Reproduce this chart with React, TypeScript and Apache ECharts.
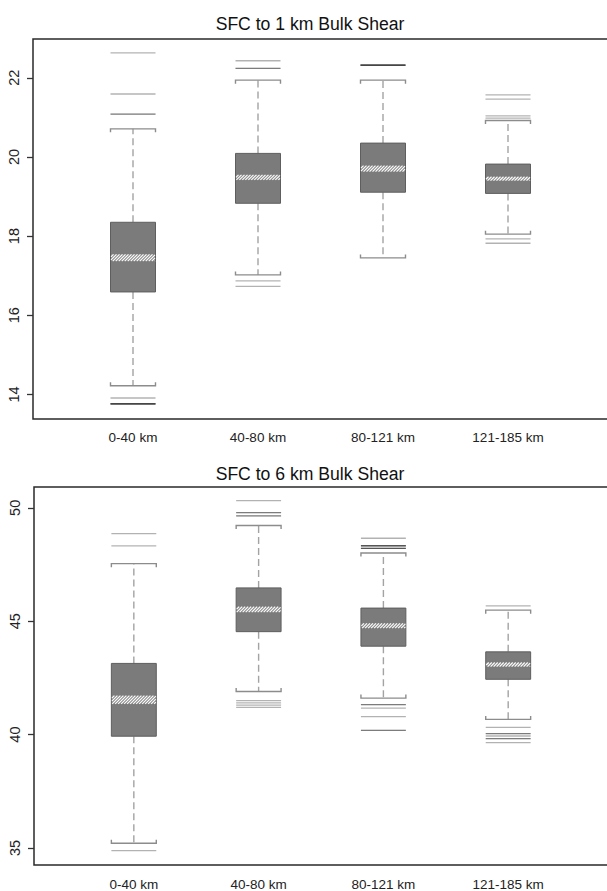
import React, { useEffect, useRef } from 'react';
import * as echarts from 'echarts';

const categories = ['0-40 km', '40-80 km', '80-121 km', '121-185 km'];

// ---- Panel 1: SFC to 1 km Bulk Shear ----
const title1 = 'SFC to 1 km Bulk Shear';
const p1WhiskerLow = [14.22, 17.02, 17.45, 18.05];
const p1Q1 = [16.59, 18.83, 19.11, 19.08];
const p1MedLow = [17.37, 19.42, 19.63, 19.4];
const p1MedHigh = [17.54, 19.55, 19.78, 19.5];
const p1Q3 = [18.35, 20.09, 20.35, 19.82];
const p1WhiskerHigh = [20.71, 21.94, 21.94, 20.92];
const p1Outliers = [
  [22.63, 21.59, 21.08, 21.08, 13.91, 13.76, 13.76, 13.76, 13.76, 13.76],
  [22.43, 22.24, 22.24, 16.87, 16.73],
  [22.32, 22.32, 22.32, 22.32, 22.32],
  [21.57, 21.46, 21.04, 20.98, 17.93, 17.82],
];
const p1Ticks = [14, 16, 18, 20, 22];
const p1Min = 13.38;
const p1Max = 22.98;

// ---- Panel 2: SFC to 6 km Bulk Shear ----
const title2 = 'SFC to 6 km Bulk Shear';
const p2WhiskerLow = [35.21, 41.9, 41.61, 40.67];
const p2Q1 = [39.93, 44.54, 43.9, 42.44];
const p2MedLow = [41.36, 45.4, 44.7, 43.0];
const p2MedHigh = [41.72, 45.64, 44.91, 43.18];
const p2Q3 = [43.14, 46.47, 45.58, 43.65];
const p2WhiskerHigh = [47.54, 49.22, 48.01, 45.49];
const p2Outliers = [
  [48.86, 48.32, 34.88],
  [50.32, 49.79, 49.79, 49.65, 49.65, 41.5, 41.4, 41.3, 41.2],
  [48.66, 48.33, 48.33, 48.33, 48.21, 48.21, 48.21, 41.32, 41.32, 41.17, 40.79, 40.19, 40.19],
  [45.68, 40.32, 40.04, 40.04, 39.94, 39.82, 39.82, 39.65],
];
const p2Ticks = [35, 40, 45, 50];
const p2Min = 34.25;
const p2Max = 50.92;

const X_MIN = 0.2;
const X_MAX = 4.88;
const BOX_W = 0.36;
const FONT = '"Liberation Sans", Arial, Helvetica, sans-serif';

type Panel = {
  wl: number[]; q1: number[]; ml: number[]; mh: number[]; q3: number[]; wh: number[]; out: number[][];
};

const panel1: Panel = { wl: p1WhiskerLow, q1: p1Q1, ml: p1MedLow, mh: p1MedHigh, q3: p1Q3, wh: p1WhiskerHigh, out: p1Outliers };
const panel2: Panel = { wl: p2WhiskerLow, q1: p2Q1, ml: p2MedLow, mh: p2MedHigh, q3: p2Q3, wh: p2WhiskerHigh, out: p2Outliers };

function makeRender(p: Panel) {
  return (params: any, api: any) => {
    const i = params.dataIndex;
    const x = i + 1;
    const half = api.size([BOX_W, 0])[0] / 2;
    const cy = (v: number) => api.coord([x, v])[1];
    const cx = api.coord([x, p.q1[i]])[0];
    const x0 = cx - half;
    const x1 = cx + half;
    const yQ1 = cy(p.q1[i]);
    const yQ3 = cy(p.q3[i]);
    const yWl = cy(p.wl[i]);
    const yWh = cy(p.wh[i]);
    const yMl = cy(p.ml[i]);
    const yMh = cy(p.mh[i]);
    const children: any[] = [];
    const whiskerStyle = { stroke: '#a3a3a3', lineWidth: 1.4, lineDash: [7, 4] };
    children.push({ type: 'line', shape: { x1: cx, y1: yQ3, x2: cx, y2: yWh }, style: whiskerStyle });
    children.push({ type: 'line', shape: { x1: cx, y1: yQ1, x2: cx, y2: yWl }, style: whiskerStyle });
    // box
    children.push({
      type: 'rect',
      shape: { x: x0, y: yQ3, width: x1 - x0, height: yQ1 - yQ3 },
      style: { fill: '#7b7b7b', stroke: '#5e5e5e', lineWidth: 1 },
    });
    // median band with hatching
    const bandTop = yMh;
    const bandBot = yMl;
    const h = bandBot - bandTop;
    children.push({
      type: 'rect',
      shape: { x: x0 + 0.5, y: bandTop, width: x1 - x0 - 1, height: h },
      style: { fill: '#8a8a8a' },
    });
    const step = 3;
    for (let a = x0 - h; a < x1; a += step) {
      const s = Math.max(a, x0 + 0.5);
      const e = Math.min(a + h, x1 - 0.5);
      if (s < e) {
        children.push({
          type: 'line',
          shape: { x1: s, y1: bandBot - (s - a), x2: e, y2: bandBot - (e - a) },
          style: { stroke: '#ffffff', lineWidth: 1.1 },
        });
      }
    }
    // outliers
    p.out[i].forEach((v) => {
      const yy = cy(v);
      children.push({
        type: 'line',
        shape: { x1: x0, y1: yy, x2: x1, y2: yy },
        style: { stroke: 'rgba(0,0,0,0.3)', lineWidth: 1.3 },
      });
    });
    // caps (brackets)
    const capStyle = { stroke: '#8c8c8c', lineWidth: 1.4, fill: null };
    children.push({
      type: 'polyline',
      shape: { points: [[x0, yWh + 3.5], [x0, yWh], [x1, yWh], [x1, yWh + 3.5]] },
      style: capStyle,
    });
    children.push({
      type: 'polyline',
      shape: { points: [[x0, yWl - 3.5], [x0, yWl], [x1, yWl], [x1, yWl - 3.5]] },
      style: capStyle,
    });
    return { type: 'group', children };
  };
}

function yAxis(grid: number, min: number, max: number, ticks: number[]) {
  return {
    type: 'value',
    gridIndex: grid,
    min,
    max,
    axisLine: { show: false },
    splitLine: { show: false },
    axisTick: { show: true, length: 6, customValues: ticks, lineStyle: { color: '#333', width: 1.3 } },
    axisLabel: {
      customValues: ticks,
      rotate: 90,
      margin: 12,
      color: '#222',
      fontSize: 14.5,
      fontFamily: FONT,
    },
  };
}

function xAxis(grid: number, margin: number) {
  return {
    type: 'value',
    gridIndex: grid,
    min: X_MIN,
    max: X_MAX,
    axisLine: { show: false },
    axisTick: { show: false },
    splitLine: { show: false },
    axisLabel: {
      customValues: [1, 2, 3, 4],
      formatter: (v: number) => categories[Math.round(v) - 1] ?? '',
      margin,
      color: '#222',
      fontSize: 13.5,
      fontFamily: FONT,
    },
  };
}

export default function App() {
  const ref = useRef<HTMLDivElement>(null);
  useEffect(() => {
    if (!ref.current) return;
    const chart = echarts.init(ref.current, undefined, { renderer: 'svg' });
    const boxData = categories.map((_, i) => [i + 1, p1Q1[i], p1Q3[i]]);
    const boxData2 = categories.map((_, i) => [i + 1, p2Q1[i], p2Q3[i]]);
    chart.setOption({
      animation: false,
      backgroundColor: '#ffffff',
      title: [
        {
          text: title1,
          left: 305,
          textAlign: 'center',
          top: 10,
          textStyle: { fontSize: 17.6, fontWeight: 'normal', color: '#111', fontFamily: FONT },
        },
        {
          text: title2,
          left: 305,
          textAlign: 'center',
          top: 460,
          textStyle: { fontSize: 17.6, fontWeight: 'normal', color: '#111', fontFamily: FONT },
        },
      ],
      grid: [
        { left: 33, top: 39, width: 585, height: 380, show: true, borderColor: '#2a2a2a', borderWidth: 1.5, backgroundColor: 'transparent' },
        { left: 34, top: 487, width: 584, height: 380, show: true, borderColor: '#2a2a2a', borderWidth: 1.5, backgroundColor: 'transparent' },
      ],
      xAxis: [xAxis(0, 11), xAxis(1, 12)],
      yAxis: [yAxis(0, p1Min, p1Max, p1Ticks), yAxis(1, p2Min, p2Max, p2Ticks)],
      series: [
        {
          type: 'custom',
          xAxisIndex: 0,
          yAxisIndex: 0,
          data: boxData,
          encode: { x: 0, y: [1, 2] },
          renderItem: makeRender(panel1),
        },
        {
          type: 'custom',
          xAxisIndex: 1,
          yAxisIndex: 1,
          data: boxData2,
          encode: { x: 0, y: [1, 2] },
          renderItem: makeRender(panel2),
        },
      ],
    });
    return () => chart.dispose();
  }, []);
  return (
    <div style={{ position: 'fixed', left: 0, top: 0, width: 607, height: 891, overflow: 'hidden', background: '#fff' }}>
      <div ref={ref} style={{ width: 640, height: 891 }} />
    </div>
  );
}
